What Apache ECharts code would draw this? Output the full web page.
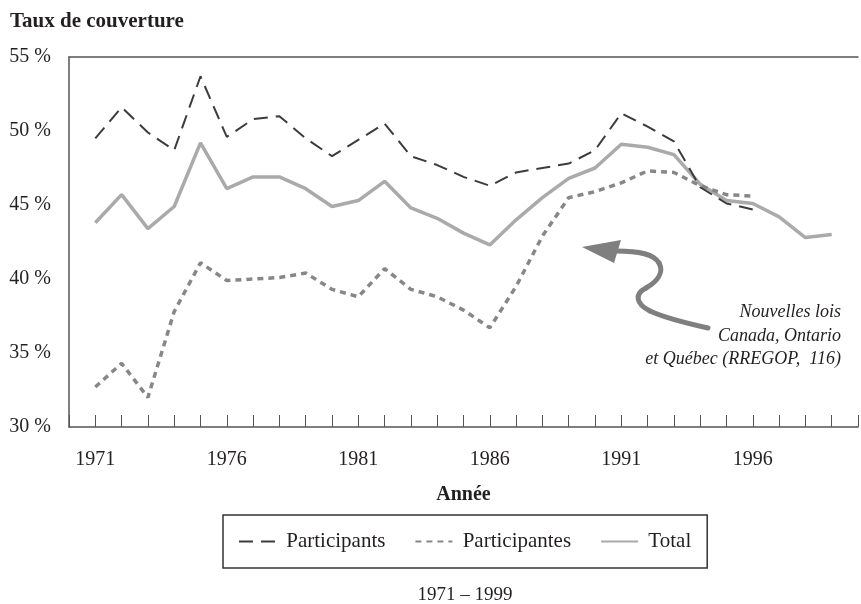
<!DOCTYPE html>
<html>
<head>
<meta charset="utf-8">
<title>Taux de couverture</title>
<script src="https://cdn.jsdelivr.net/npm/echarts@6/dist/echarts.min.js"></script>
<style>
  html, body { margin: 0; padding: 0; background: #fff; }
  #chart { width: 861px; height: 604px; }
</style>
</head>
<body>
<div id="chart"></div>
<script>
// années 1971 - 1999
var years = [];
for (var y = 1971; y <= 1999; y++) years.push(y);

// étiquettes de l'axe horizontal (une toutes les 5 années)
var tickLabels = [1971, 1976, 1981, 1986, 1991, 1996];

// taux de couverture (%)
var participants = [49.5, 51.6, 49.9, 48.7, 53.7, 49.6, 50.8, 51.0, 49.5, 48.3,
  49.4, 50.5, 48.3, 47.7, 46.9, 46.3, 47.2, 47.5, 47.8, 48.7,
  51.2, 50.3, 49.3, 46.2, 45.1, 44.7];
var participantes = [32.7, 34.3, 32.0, 37.8, 41.1, 39.9, 40.0, 40.1, 40.4, 39.3,
  38.8, 40.7, 39.3, 38.8, 37.9, 36.7, 39.5, 42.9, 45.5, 45.9,
  46.5, 47.3, 47.2, 46.3, 45.7, 45.6];
var total = [43.8, 45.7, 43.4, 44.9, 49.2, 46.1, 46.9, 46.9, 46.1, 44.9,
  45.3, 46.6, 44.8, 44.1, 43.1, 42.3, 44.0, 45.5, 46.8, 47.5,
  49.1, 48.9, 48.4, 46.4, 45.3, 45.1, 44.2, 42.8, 43.0];

var yTicks = { min: 30, max: 55, interval: 5 };

function pairs(vals) {
  return vals.map(function (v, i) { return [years[i], v]; });
}

var serif = 'Liberation Serif';
var ink = '#231f20';
var axisGray = '#555';
var arrowGray = '#7f7f7f';

// courbe de la flèche (segments de Bézier)
function arrowPiece(p) {
  return {
    type: 'bezierCurve',
    shape: { x1: p[0], y1: p[1], cpx1: p[2], cpy1: p[3], cpx2: p[4], cpy2: p[5], x2: p[6], y2: p[7] },
    style: { fill: null, stroke: arrowGray, lineWidth: 5, lineCap: 'round' },
    z: 10
  };
}

var chart = echarts.init(document.getElementById('chart'));

var option = {
  animation: false,
  backgroundColor: '#fff',
  textStyle: { fontFamily: serif, color: ink },
  title: {
    text: 'Taux de couverture',
    left: 10,
    top: 11,
    padding: 0,
    textStyle: { fontFamily: serif, fontWeight: 'bold', fontSize: 21, color: ink }
  },
  grid: {
    left: 69,
    top: 57,
    width: 794,
    height: 370
  },
  legend: {
    left: 223,
    top: 515,
    padding: [16, 16, 16, 15],
    borderColor: '#333',
    borderWidth: 1.5,
    itemWidth: 37,
    itemHeight: 14,
    itemGap: 29,
    itemStyle: { opacity: 0 },
    formatter: function (n) { return ' ' + n; },
    textStyle: { fontFamily: serif, fontSize: 21, color: ink },
    data: ['Participants', 'Participantes', 'Total']
  },
  xAxis: [
    {
      type: 'value',
      min: 1970,
      max: 2000,
      interval: 1,
      name: 'Année',
      nameLocation: 'middle',
      nameGap: 58,
      nameTextStyle: { fontFamily: serif, fontWeight: 'bold', fontSize: 20, color: ink },
      axisLine: { lineStyle: { color: axisGray, width: 1.5 } },
      axisTick: { inside: true, length: 12, lineStyle: { color: axisGray, width: 1 } },
      axisLabel: {
        margin: 23,
        fontFamily: serif,
        fontSize: 20,
        color: ink,
        formatter: function (v) { return tickLabels.indexOf(v) >= 0 ? String(v) : ''; }
      },
      splitLine: { show: false }
    },
    {
      // trait supérieur du cadre
      type: 'value',
      position: 'top',
      min: 1970,
      max: 2000,
      axisLine: { show: true, lineStyle: { color: axisGray, width: 1.5 } },
      axisTick: { show: false },
      axisLabel: { show: false },
      splitLine: { show: false }
    }
  ],
  yAxis: {
    type: 'value',
    min: yTicks.min,
    max: yTicks.max,
    interval: yTicks.interval,
    axisLine: { show: true, lineStyle: { color: axisGray, width: 1.5 } },
    axisTick: { show: false },
    axisLabel: {
      margin: 18,
      fontFamily: serif,
      fontSize: 20,
      color: ink,
      formatter: '{value} %'
    },
    splitLine: { show: false }
  },
  series: [
    {
      name: 'Participants',
      type: 'line',
      symbol: 'none',
      data: pairs(participants),
      lineStyle: { color: '#3c3c3c', width: 2, type: [14, 8] },
      itemStyle: { color: '#3c3c3c', opacity: 0 },
      z: 4
    },
    {
      name: 'Participantes',
      type: 'line',
      symbol: 'none',
      data: pairs(participantes),
      lineStyle: { color: '#878787', width: 3.5, type: [6, 5] },
      itemStyle: { color: '#878787', opacity: 0 },
      z: 3
    },
    {
      name: 'Total',
      type: 'line',
      symbol: 'none',
      data: pairs(total),
      lineStyle: { color: '#aaaaaa', width: 3.5 },
      itemStyle: { color: '#aaaaaa', opacity: 0 },
      z: 2
    }
  ],
  graphic: [
    arrowPiece([708, 328, 690, 324, 665, 318, 650, 311]),
    arrowPiece([650, 311, 636, 304, 634, 294, 646, 288]),
    arrowPiece([646, 288, 658, 281, 664, 272, 659, 263]),
    arrowPiece([659, 263, 654, 254, 640, 251, 616, 251]),
    {
      type: 'polygon',
      shape: { points: [[582, 247], [621, 240], [614, 263]] },
      style: { fill: arrowGray },
      z: 10
    },
    {
      type: 'text',
      x: 841,
      y: 301,
      style: {
        text: 'Nouvelles lois\nCanada, Ontario\net Québec (RREGOP,  116)',
        fill: ink,
        font: 'italic 18px "Liberation Serif"',
        textAlign: 'right',
        lineHeight: 23.5
      },
      z: 10
    },
    {
      type: 'text',
      x: 465,
      y: 586,
      style: {
        text: '1971 – 1999',
        fill: ink,
        font: '19px "Liberation Serif"',
        textAlign: 'center'
      }
    }
  ]
};

chart.setOption(option);
</script>
</body>
</html>
